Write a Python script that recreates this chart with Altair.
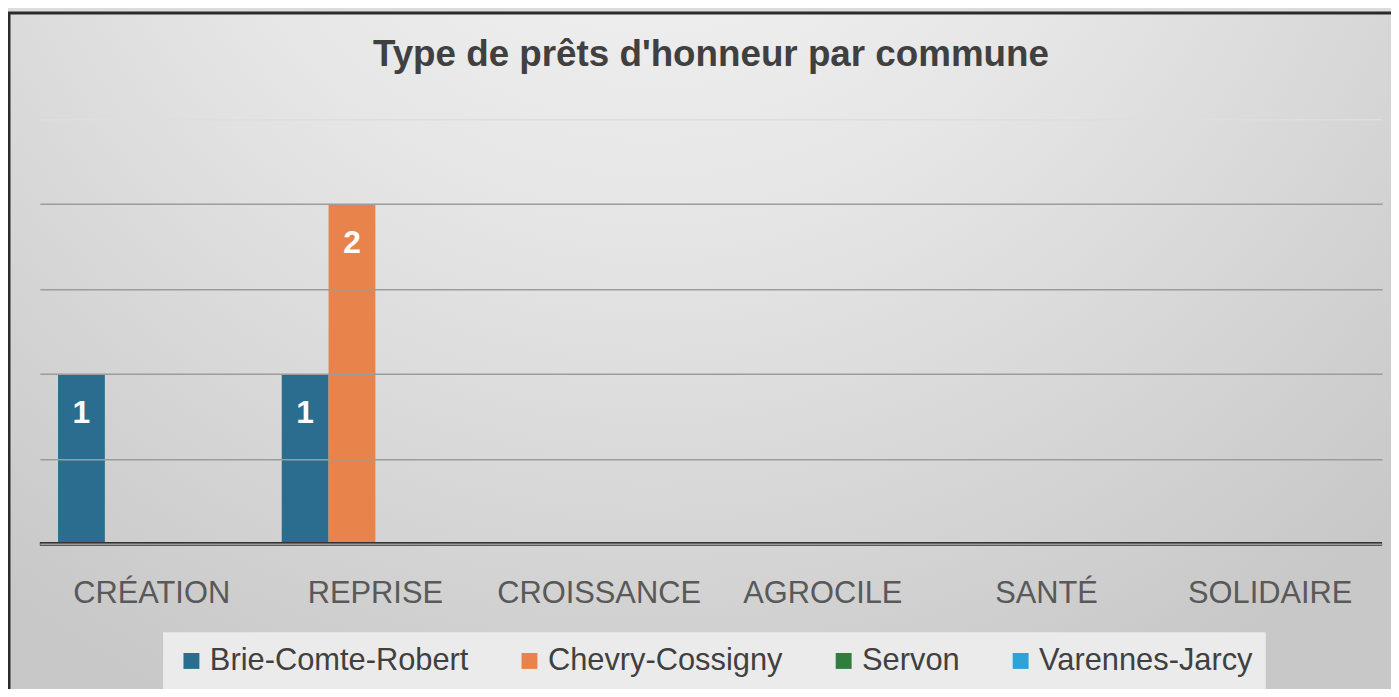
import altair as alt
import pandas as pd

# ---- data ----
categories = ["CRÉATION", "REPRISE", "CROISSANCE", "AGROCILE", "SANTÉ", "SOLIDAIRE"]
communes = ["Brie-Comte-Robert", "Chevry-Cossigny", "Servon", "Varennes-Jarcy"]
brie = [1, 1, 0, 0, 0, 0]
chevry = [0, 2, 0, 0, 0, 0]
servon = [0, 0, 0, 0, 0, 0]
varennes = [0, 0, 0, 0, 0, 0]
colors = ["#2A6D8F", "#E8834B", "#2F7D3F", "#2EA3D9"]
y_ticks = [0, 0.5, 1, 1.5, 2, 2.5]
title_text = "Type de prêts d'honneur par commune"

rows = []
for commune, vals in zip(communes, [brie, chevry, servon, varennes]):
    for cat, v in zip(categories, vals):
        rows.append({"type": cat, "commune": commune, "n": v})
df = pd.DataFrame(rows)

W, H = 1350, 427
FONT = "Liberation Sans, Arial, sans-serif"

gradient = {
    "gradient": "radial",
    "x1": 0.45, "y1": 0.05, "r1": 0,
    "x2": 0.45, "y2": 0.05, "r2": 0.75,
    "stops": [
        {"offset": 0, "color": "#f7f7f7"},
        {"offset": 0.45, "color": "#e6e6e6"},
        {"offset": 1, "color": "#c8c8c8"},
    ],
}

bg = alt.Chart(pd.DataFrame({"a": [0]})).mark_rect(
    fill=gradient, stroke="#2b2b2b", strokeWidth=3
).encode(
    x=alt.value(-31), x2=alt.value(W + 60),
    y=alt.value(-107), y2=alt.value(H + 200),
)

xenc = alt.X("type:N", sort=categories,
             scale=alt.Scale(paddingInner=0.163, paddingOuter=0.0815),
             axis=alt.Axis(title=None, labelAngle=0, domain=False, ticks=False,
                           labelFontSize=31, labelColor="#595959", labelFont=FONT,
                           labelPadding=35, labelLimit=400, grid=False, zindex=1))
yenc = alt.Y("n:Q", scale=alt.Scale(domain=[0, 2.5], nice=False),
             axis=alt.Axis(title=None, values=y_ticks, labels=False, ticks=False,
                           domain=False, grid=True, zindex=1,
                           gridColor={"condition": {"test": "datum.value >= 2.5", "value": "#dedede"},
                                      "value": "#9c9c9c"},
                           gridWidth=1.5))
xoff = alt.XOffset("commune:N", sort=communes, scale=alt.Scale(paddingInner=0, paddingOuter=0))

base = alt.Chart(df)

bars = base.mark_bar().encode(
    x=xenc, y=yenc, xOffset=xoff,
    color=alt.Color("commune:N", sort=communes,
                    scale=alt.Scale(domain=communes, range=colors),
                    legend=alt.Legend(title=None, orient="none", direction="horizontal",
                                      legendX=124, legendY=516,
                                      symbolType="square", symbolSize=256, symbolStrokeWidth=0,
                                      labelFont=FONT, labelFontSize=31, labelColor="#404040",
                                      labelLimit=600,
                                      columnPadding=45, labelOffset=3,
                                      fillColor="#ebebeb", padding=13)),
)

labels = base.transform_filter("datum.n > 0").mark_text(
    baseline="middle", dy=39, color="white", fontWeight="bold", fontSize=32, font=FONT
).encode(x=xenc, y=yenc, xOffset=xoff, text="n:Q")

baseline = alt.Chart(pd.DataFrame({"y": [0]})).mark_rule(color="#333333", strokeWidth=4).encode(
    y=alt.Y("y:Q")
)

chart = alt.layer(bg, bars, labels, baseline).properties(
    width=W, height=H,
    title=alt.TitleParams(title_text, fontSize=37, font=FONT, fontWeight="bold",
                          color="#404040", anchor="middle", baseline="alphabetic",
                          offset=-92),
    padding={"left": 32, "top": 110, "right": 9, "bottom": 144},
    autosize=alt.AutoSizeParams(type="none"),
    background="#dcdcdc",
).configure_view(stroke=None)

chart.save("out.html", embed_options={"renderer": "svg", "actions": False})
